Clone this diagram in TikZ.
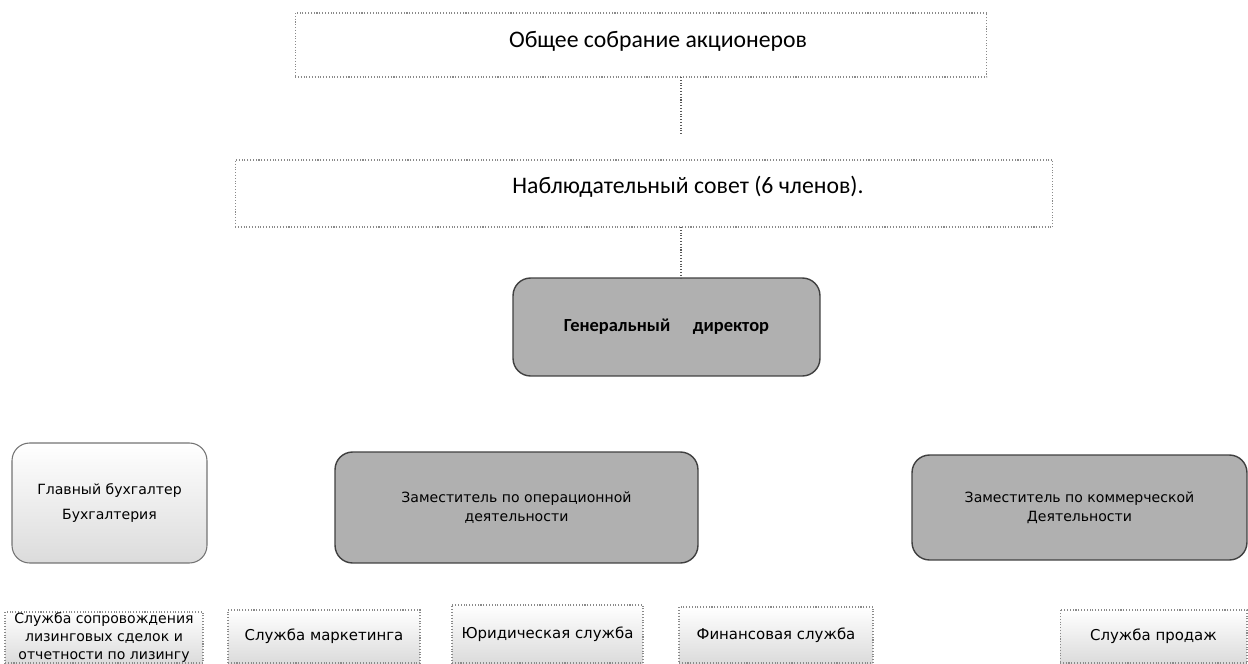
\documentclass[tikz,border=0pt]{standalone}
\usepackage{fontspec}
\setmainfont{Carlito}
\newfontfamily\unitfont{DejaVu Sans}
\usetikzlibrary{positioning}
\definecolor{chartgray}{HTML}{B0B0B0}
\definecolor{edgegray}{HTML}{8A8A8A}

\begin{document}
\begin{tikzpicture}[
    x=0.02cm, y=-0.02cm,
    boardbox/.style={draw=edgegray, densely dotted, line width=0.6pt, inner sep=0pt, outer sep=0pt},
    boardtext/.style={font=\fontsize{13.5}{16}\selectfont},
    headbox/.style={draw=black!75, line width=0.8pt, rounded corners=10pt, fill=chartgray, align=center, outer sep=0pt, font=\unitfont\fontsize{8}{10.8}\selectfont},
    unitbox/.style={draw=edgegray, densely dotted, line width=0.6pt, top color=white, bottom color=black!14, align=center, inner sep=1pt, outer sep=0pt, font=\unitfont\fontsize{8.5}{10.5}\selectfont},
    link/.style={draw=black!65, densely dotted, line width=0.6pt},
]
    \useasboundingbox (0,0) rectangle (1248,663);

    % top levels
    \node[boardbox, minimum width=13.84cm, minimum height=1.28cm] (gsm) at (641,45) {};
    \node[boardtext] (gsmtext) at (658,41) {Общее собрание акционеров};
    \node[boardbox, minimum width=16.36cm, minimum height=1.34cm] (nabl) at (644,193.5) {};
    \node[boardtext] (nabltext) at (688,187) {Наблюдательный совет (6 членов).};

    % director
    \node[headbox, minimum width=6.14cm, minimum height=1.96cm, font=\bfseries\fontsize{10.5}{12}\selectfont] (gendir) at (666.5,327) {Генеральный\quad\ директор};

    % deputies
    \node[headbox, minimum width=7.26cm, minimum height=2.22cm] (zamop) at (516.5,507.5) {Заместитель по операционной\\деятельности};
    \node[headbox, minimum width=6.7cm, minimum height=2.1cm] (zamkom) at (1079.5,507.5) {Заместитель по коммерческой\\Деятельности};
    \node[unitbox, solid, draw=black!55, rounded corners=10pt, minimum width=3.9cm, minimum height=2.4cm, font=\unitfont\fontsize{8}{14.7}\selectfont] (glavbuh) at (109.5,503) {Главный бухгалтер\\Бухгалтерия};

    % services
    \node[unitbox, inner ysep=0pt, minimum width=3.96cm, minimum height=1.02cm, font=\unitfont\fontsize{8}{10.2}\selectfont] (soprov) at (104,637.5) {Служба сопровождения\\лизинговых сделок и\\отчетности по лизингу};
    \node[unitbox, minimum width=3.84cm, minimum height=1.06cm] (market) at (324,636.5) {Служба маркетинга};
    \node[unitbox, minimum width=3.82cm, minimum height=1.16cm] (yur) at (547.5,634) {Юридическая служба};
    \node[unitbox, minimum width=3.88cm, minimum height=1.12cm] (fin) at (776,635) {Финансовая служба};
    \node[unitbox, minimum width=3.74cm, minimum height=1.06cm] (sales) at (1153.5,636.5) {Служба продаж};

    % connectors
    \coordinate (linkend) at (681,135);
    \draw[link] (gsm.south -| linkend) -- (linkend);
    \draw[link] (nabl.south -| linkend) -- (gendir.north -| linkend);
\end{tikzpicture}
\end{document}
